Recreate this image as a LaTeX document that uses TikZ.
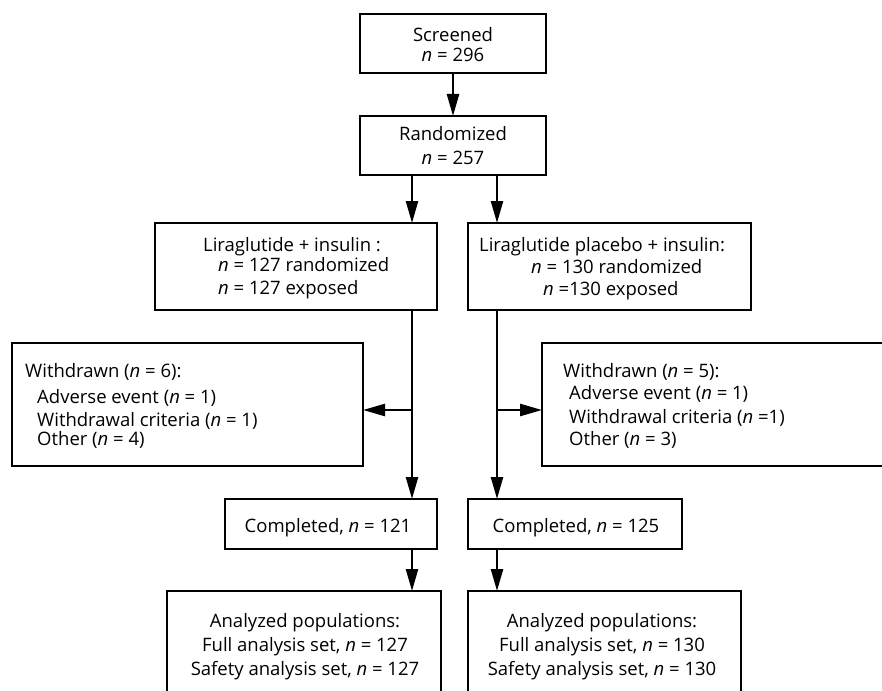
\documentclass[tikz,border=0pt]{standalone}
\usepackage{fontspec}
\setmainfont{Open Sans}
\usetikzlibrary{arrows.meta}

\tikzset{
  box/.style={draw, line width=2.5pt, inner sep=0pt, outer sep=0pt, anchor=north west},
  lbl/.style={inner sep=0pt, font=\fontsize{18.5pt}{22pt}\selectfont},
  arr/.style={line width=2.5pt, -{Triangle[length=22pt,width=12pt]}},
}

\begin{document}
\begin{tikzpicture}[x=1pt,y=-1pt]
\useasboundingbox (0,0) rectangle (882,690);

% boxes
\node[box, minimum width=186, minimum height=59] (scr) at (360,14) {};
\node[box, minimum width=186, minimum height=59] (rand) at (360,116) {};
\node[box, minimum width=282, minimum height=87] (llira) at (155,223) {};
\node[box, minimum width=283, minimum height=87] (rlira) at (468,223) {};
\node[box, minimum width=351, minimum height=123] (lwd) at (12,343) {};
\node[box, minimum width=360, minimum height=123] (rwd) at (542,343) {};
\node[box, minimum width=212, minimum height=50] (lcomp) at (225,499) {};
\node[box, minimum width=214, minimum height=50] (rcomp) at (468,499) {};
\node[box, minimum width=274, minimum height=130] (lana) at (167,591) {};
\node[box, minimum width=273, minimum height=130] (rana) at (468,591) {};

% texts
\node[lbl, anchor=base] (scrA) at (453,42) {Screened};
\node[lbl, anchor=base] (scrB) at (453,62) {\textit{n} = 296};
\node[lbl, anchor=base] (randA) at (453,140) {Randomized};
\node[lbl, anchor=base] (randB) at (453,164) {\textit{n} = 257};

\node[lbl, anchor=base west] (lliraA) at (203,251) {Liraglutide + insulin :};
\node[lbl, anchor=base west] (lliraB) at (218,271) {\textit{n} = 127 randomized};
\node[lbl, anchor=base west] (lliraC) at (218,294) {\textit{n} = 127 exposed};
\node[lbl, anchor=base west] (rliraA) at (479,251) {Liraglutide placebo + insulin:};
\node[lbl, anchor=base west] (rliraB) at (531,273) {\textit{n} = 130 randomized};
\node[lbl, anchor=base west] (rliraC) at (543,295) {\textit{n} =130 exposed};

\node[lbl, anchor=base west] (lwdA) at (25,377) {Withdrawn (\textit{n} = 6):};
\node[lbl, anchor=base west] (lwdB) at (37,403) {Adverse event (\textit{n} = 1)};
\node[lbl, anchor=base west] (lwdC) at (37,426) {Withdrawal criteria (\textit{n} = 1)};
\node[lbl, anchor=base west] (lwdD) at (37,445) {Other (\textit{n} = 4)};
\node[lbl, anchor=base west] (rwdA) at (563,377) {Withdrawn (\textit{n} = 5):};
\node[lbl, anchor=base west] (rwdB) at (569,399) {Adverse event (\textit{n} = 1)};
\node[lbl, anchor=base west] (rwdC) at (569,423) {Withdrawal criteria (\textit{n} =1)};
\node[lbl, anchor=base west] (rwdD) at (569,445) {Other (\textit{n} = 3)};

\node[lbl, anchor=base] (lcompA) at (328,532) {Completed, \textit{n} = 121};
\node[lbl, anchor=base] (rcompA) at (576,532) {Completed, \textit{n} = 125};

\node[lbl, anchor=base] (lanaA) at (305,627) {Analyzed populations:};
\node[lbl, anchor=base] (lanaB) at (305,651) {Full analysis set, \textit{n} = 127};
\node[lbl, anchor=base] (lanaC) at (305,675) {Safety analysis set, \textit{n} = 127};
\node[lbl, anchor=base] (ranaA) at (602,627) {Analyzed populations:};
\node[lbl, anchor=base] (ranaB) at (602,651) {Full analysis set, \textit{n} = 130};
\node[lbl, anchor=base] (ranaC) at (602,675) {Safety analysis set, \textit{n} = 130};

% connectors
\coordinate (lx) at (412,0);
\coordinate (rx) at (497,0);
\coordinate (lbr) at (412,410);
\coordinate (rbr) at (497,410);
\draw[arr] (scr.south) -- (rand.north);
\draw[arr] (rand.south -| lx) -- (llira.north -| lx);
\draw[arr] (rand.south -| rx) -- (rlira.north -| rx);
\draw[arr] (llira.south -| lx) -- (lcomp.north -| lx);
\draw[arr] (rlira.south -| rx) -- (rcomp.north -| rx);
\draw[arr] (lbr) -- (lbr -| lwd.east);
\draw[arr] (rbr) -- (rbr -| rwd.west);
\draw[arr] (lcomp.south -| lx) -- (lana.north -| lx);
\draw[arr] (rcomp.south -| rx) -- (rana.north -| rx);

\end{tikzpicture}
\end{document}
